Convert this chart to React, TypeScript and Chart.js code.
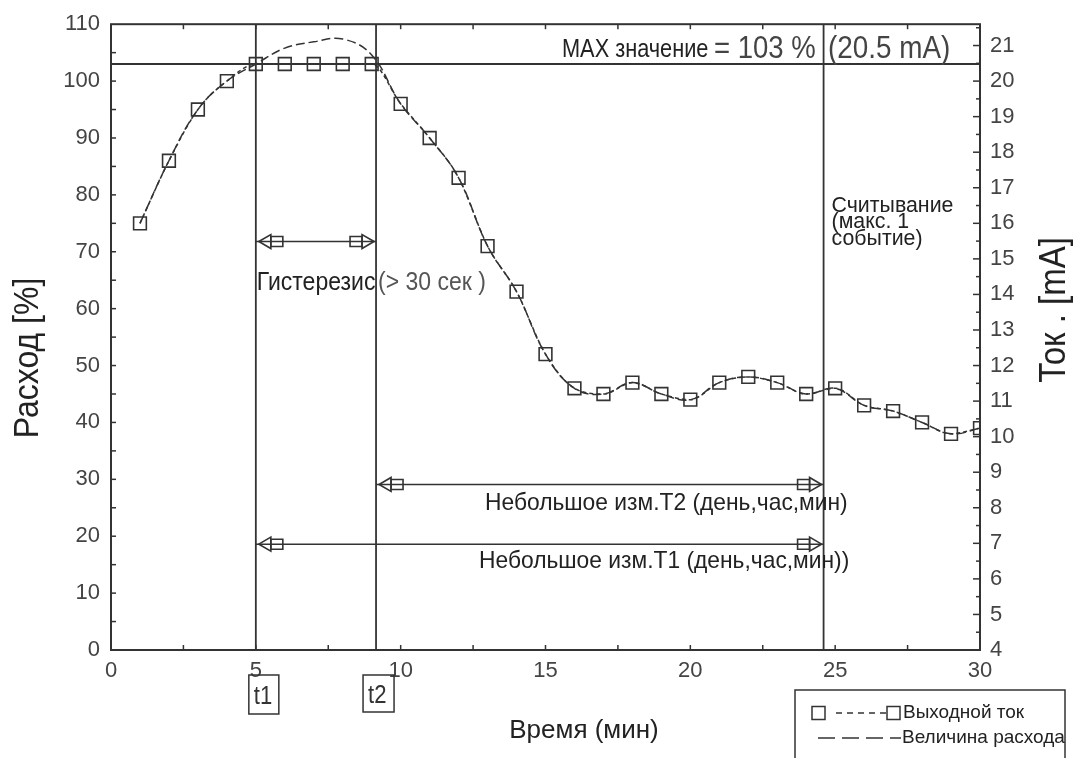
import React, { useEffect, useRef } from "react";
import { Chart, registerables } from "chart.js";

Chart.register(...registerables);

// ---- data ----
const timeMin = [1, 2, 3, 4, 5, 6, 7, 8, 9, 10, 11, 12, 13, 14, 15, 16, 17, 18, 19, 20, 21, 22, 23, 24, 25, 26, 27, 28, 29, 30];
const outputCurrentPct = [75, 86, 95, 100, 103, 103, 103, 103, 103, 96, 90, 83, 71, 63, 52, 46, 45, 47, 45, 44, 47, 48, 47, 45, 46, 43, 42, 40, 38, 39];
const flowTime = [1, 2, 3, 4, 5, 6, 7, 8, 9, 10, 11, 12, 13, 14, 15, 16, 17, 18, 19, 20, 21, 22, 23, 24, 25, 26, 27, 28, 29, 30];
const flowPct = [75, 86, 95, 100, 103, 105.8, 106.9, 107.4, 104.6, 96, 90, 83, 71, 63, 52, 46, 45, 47, 45, 44, 47, 48, 47, 45, 46, 43, 42, 40, 38, 39];

const xTickLabels = [0, 5, 10, 15, 20, 25, 30];
const leftTickLabels = [0, 10, 20, 30, 40, 50, 60, 70, 80, 90, 100, 110];
const rightTickLabels = [4, 5, 6, 7, 8, 9, 10, 11, 12, 13, 14, 15, 16, 17, 18, 19, 20, 21];

const t1 = 5;
const t2 = 9.15;
const readoutTime = 24.6;
const maxPct = 103;
const hysteresisY = 71.8;
const t2ArrowY = 29.1;
const t1ArrowY = 18.6;

const FONT = "'Liberation Sans', Arial, sans-serif";
const INK = "#333";

function line(ctx: CanvasRenderingContext2D, x1: number, y1: number, x2: number, y2: number) {
  ctx.beginPath();
  ctx.moveTo(x1, y1);
  ctx.lineTo(x2, y2);
  ctx.stroke();
}

// text drawn with a horizontal squeeze (sx) to mimic the condensed lettering
function text(ctx: CanvasRenderingContext2D, s: string, x: number, y: number, size: number, sx: number, color: string) {
  ctx.save();
  ctx.translate(x, y);
  ctx.scale(sx, 1);
  ctx.font = `${size}px ${FONT}`;
  ctx.fillStyle = color;
  ctx.textAlign = "left";
  ctx.textBaseline = "alphabetic";
  ctx.fillText(s, 0, 0);
  ctx.restore();
}

function vText(ctx: CanvasRenderingContext2D, s: string, cx: number, cy: number, size: number, stretch: number) {
  ctx.save();
  ctx.translate(cx, cy);
  ctx.rotate(-Math.PI / 2);
  ctx.scale(1, stretch);
  ctx.font = `${size}px ${FONT}`;
  ctx.fillStyle = "#222";
  ctx.textAlign = "center";
  ctx.textBaseline = "middle";
  ctx.fillText(s, 0, 0);
  ctx.restore();
}

// hollow "pencil" arrow head; dir = 1 -> points left, dir = -1 -> points right
function arrowHead(ctx: CanvasRenderingContext2D, tipX: number, y: number, dir: number) {
  ctx.beginPath();
  ctx.moveTo(tipX, y);
  ctx.lineTo(tipX + dir * 12, y - 7);
  ctx.lineTo(tipX + dir * 12, y + 7);
  ctx.closePath();
  ctx.stroke();
  ctx.beginPath();
  ctx.rect(Math.min(tipX + dir * 12, tipX + dir * 24), y - 5, 12, 10);
  ctx.stroke();
}

function doubleArrow(ctx: CanvasRenderingContext2D, x1: number, x2: number, y: number) {
  ctx.lineWidth = 1.6;
  line(ctx, x1, y, x2, y);
  arrowHead(ctx, x1 + 3, y, 1);
  arrowHead(ctx, x2 - 2, y, -1);
}

const annotationPlugin = {
  id: "annotations",
  afterDatasetsDraw(chart: any) {
    const { ctx, chartArea: ca, scales } = chart;
    const xs = scales.x;
    const ys = scales.y;
    const yr = scales.y2;
    ctx.save();
    ctx.strokeStyle = INK;
    ctx.fillStyle = INK;

    // frame
    ctx.lineWidth = 2;
    ctx.strokeRect(ca.left, ca.top, ca.right - ca.left, ca.bottom - ca.top);

    // inward ticks
    ctx.lineWidth = 1.5;
    for (let v = 2.5; v < 30; v += 2.5) {
      const px = xs.getPixelForValue(v);
      line(ctx, px, ca.bottom, px, ca.bottom - 5);
      line(ctx, px, ca.top, px, ca.top + 5);
    }
    for (let v = 5; v < 110; v += 5) {
      const py = ys.getPixelForValue(v);
      line(ctx, ca.left, py, ca.left + 5, py);
    }
    for (let v = 4.5; v < 21.6; v += 0.5) {
      const py = yr.getPixelForValue(v);
      const major = Math.abs(v - Math.round(v)) < 0.01;
      line(ctx, ca.right, py, ca.right - (major ? 7 : 4), py);
    }

    // reference lines
    const xT1 = xs.getPixelForValue(t1);
    const xT2 = xs.getPixelForValue(t2);
    const xR = xs.getPixelForValue(readoutTime);
    const yMax = ys.getPixelForValue(maxPct);
    ctx.lineWidth = 1.8;
    line(ctx, ca.left, yMax, ca.right, yMax);
    line(ctx, xT1, ca.top, xT1, ca.bottom);
    line(ctx, xT2, ca.top, xT2, ca.bottom);
    line(ctx, xR, ca.top, xR, ca.bottom);

    // arrows
    doubleArrow(ctx, xT1, xT2, ys.getPixelForValue(hysteresisY));
    doubleArrow(ctx, xT2, xR, ys.getPixelForValue(t2ArrowY));
    doubleArrow(ctx, xT1, xR, ys.getPixelForValue(t1ArrowY));

    // texts
    text(ctx, "MAX значение", 562, yMax - 7, 25, 0.87, "#222");
    text(ctx, "= 103 %", 714, yMax - 6, 32, 0.86, "#444");
    text(ctx, "(20.5 mA)", 828, yMax - 6, 32, 0.87, "#444");

    text(ctx, "Считывание", xR + 8, 212, 22, 0.97, "#222");
    text(ctx, "(макс. 1", xR + 8, 228, 22, 0.97, "#222");
    text(ctx, "событие)", xR + 8, 245, 22, 0.97, "#222");

    text(ctx, "Гистерезис", xT1 + 1, 290, 25, 0.92, "#222");
    text(ctx, "(> 30 сек )", xT2 + 2, 290, 25, 0.92, "#555");

    text(ctx, "Небольшое изм.T2 (день,час,мин)", 485, 510, 24, 0.95, "#222");
    text(ctx, "Небольшое изм.T1 (день,час,мин))", 479, 568, 24, 0.95, "#222");

    // t1 / t2 boxes
    ctx.lineWidth = 1.5;
    ctx.strokeRect(xT1 - 7, ca.bottom + 25, 30, 39);
    ctx.strokeRect(xT2 - 13, ca.bottom + 25, 31, 37);
    text(ctx, "t1", xT1 - 2, ca.bottom + 54, 26, 0.85, "#333");
    text(ctx, "t2", xT2 - 8, ca.bottom + 53, 26, 0.85, "#333");

    // axis titles
    ctx.save();
    ctx.font = `26px ${FONT}`;
    ctx.fillStyle = "#222";
    ctx.textAlign = "center";
    ctx.textBaseline = "alphabetic";
    ctx.fillText("Время (мин)", 584, 738);
    ctx.restore();

    vText(ctx, "Расход [%]", 28, 358, 32, 1.12);
    vText(ctx, "Ток . [mA]", 1055, 310, 33, 1.1);

    // legend
    ctx.lineWidth = 1.5;
    ctx.strokeStyle = "#333";
    ctx.strokeRect(795, 690, 270, 90);
    const r1 = 713;
    const r2 = 738;
    ctx.strokeRect(812, r1 - 6.5, 13, 13);
    ctx.strokeRect(887, r1 - 6.5, 13, 13);
    ctx.setLineDash([6, 5]);
    line(ctx, 836, r1, 887, r1);
    ctx.setLineDash([17, 7]);
    line(ctx, 818, r2, 901, r2);
    ctx.setLineDash([]);
    ctx.textAlign = "left";
    ctx.textBaseline = "middle";
    ctx.font = `19px ${FONT}`;
    ctx.fillStyle = "#222";
    ctx.fillText("Выходной ток", 903, r1);
    ctx.fillText("Величина расхода", 902, r2);

    ctx.restore();
  },
};

export default function App() {
  const canvasRef = useRef<HTMLCanvasElement | null>(null);

  useEffect(() => {
    const canvas = canvasRef.current;
    if (!canvas) return;
    const tickFont = { family: FONT, size: 22 };
    const chart = new Chart(canvas, {
      type: "line",
      data: {
        datasets: [
          {
            label: "Выходной ток",
            data: timeMin.map((t, i) => ({ x: t, y: outputCurrentPct[i] })),
            yAxisID: "y",
            borderColor: INK,
            borderWidth: 1.5,
            borderDash: [4, 3],
            pointStyle: "rect",
            pointRadius: 9,
            pointBorderWidth: 1.6,
            pointBorderColor: INK,
            pointBackgroundColor: "rgba(0,0,0,0)",
            cubicInterpolationMode: "monotone",
            clip: 0,
          },
          {
            label: "Величина расхода",
            data: flowTime.map((t, i) => ({ x: t, y: flowPct[i] })),
            yAxisID: "y",
            borderColor: INK,
            borderWidth: 1.5,
            borderDash: [9, 4],
            pointRadius: 0,
            tension: 0.4,
            clip: 0,
          },
        ],
      },
      options: {
        responsive: false,
        animation: false,
        events: [],
        layout: { padding: { top: 19, left: 0, right: 0, bottom: 0 } },
        plugins: { legend: { display: false }, tooltip: { enabled: false } },
        scales: {
          x: {
            type: "linear",
            position: "bottom",
            min: 0,
            max: 30,
            grid: { display: false, drawTicks: false },
            border: { display: false },
            afterBuildTicks: (scale: any) => {
              scale.ticks = xTickLabels.map((v) => ({ value: v }));
            },
            ticks: { font: tickFont, color: "#444", padding: 8, autoSkip: false, maxRotation: 0 },
            afterFit: (scale: any) => {
              scale.height = 108;
            },
          },
          y: {
            type: "linear",
            position: "left",
            min: 0,
            max: 110,
            grid: { display: false, drawTicks: false },
            border: { display: false },
            afterBuildTicks: (scale: any) => {
              scale.ticks = leftTickLabels.map((v) => ({ value: v }));
            },
            ticks: { font: tickFont, color: "#444", padding: 11, autoSkip: false },
            afterFit: (scale: any) => {
              scale.width = 111;
            },
          },
          y2: {
            type: "linear",
            position: "right",
            min: 4,
            max: 21.6,
            grid: { display: false, drawTicks: false },
            border: { display: false },
            afterBuildTicks: (scale: any) => {
              scale.ticks = rightTickLabels.map((v) => ({ value: v }));
            },
            ticks: { font: tickFont, color: "#444", padding: 10, autoSkip: false },
            afterFit: (scale: any) => {
              scale.width = 95;
            },
          },
        },
      },
      plugins: [annotationPlugin],
    });
    return () => chart.destroy();
  }, []);

  return (
    <div style={{ position: "fixed", left: 0, top: 0, width: 1075, height: 758, background: "#fff" }}>
      <canvas ref={canvasRef} width={1075} height={758} />
    </div>
  );
}
